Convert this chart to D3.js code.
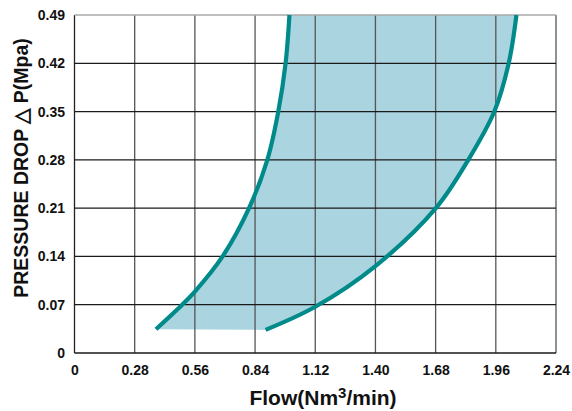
<!DOCTYPE html>
<html><head><meta charset="utf-8">
<script src="https://cdn.jsdelivr.net/npm/d3@7/dist/d3.min.js"></script>
<style>body{margin:0;background:#fff}svg{display:block}text{font-family:"Liberation Sans",Arial,sans-serif;font-weight:bold}</style>
</head><body><svg id="c" width="572" height="411"></svg>
<script>
const xTicks = [0, 0.28, 0.56, 0.84, 1.12, 1.40, 1.68, 1.96, 2.24];
const xTickLabels = ["0", "0.28", "0.56", "0.84", "1.12", "1.40", "1.68", "1.96", "2.24"];
const yTicks = [0, 0.07, 0.14, 0.21, 0.28, 0.35, 0.42, 0.49];
const yTickLabels = ["0", "0.07", "0.14", "0.21", "0.28", "0.35", "0.42", "0.49"];
// lower-flow boundary curve
const leftCurveFlow = [0.379, 0.501, 0.56, 0.689, 0.812, 0.897, 0.948, 0.982, 1.0];
const leftCurveP    = [0.0345, 0.07, 0.089, 0.14, 0.21, 0.28, 0.35, 0.42, 0.49];
// higher-flow boundary curve
const rightCurveFlow = [0.889, 1.12, 1.40, 1.681, 1.832, 1.953, 2.02, 2.056];
const rightCurveP    = [0.0335, 0.067, 0.126, 0.21, 0.28, 0.35, 0.42, 0.49];
const xTitle = ["Flow(Nm", "3", "/min)"];
const yTitle = "PRESSURE DROP \u25B3 P(Mpa)";

const svg = d3.select("#c");
const x = d3.scaleLinear().domain([0, 2.24]).range([74.5, 556]);
const y = d3.scaleLinear().domain([0, 0.49]).range([353, 15]);

const left = leftCurveP.map((p, i) => [leftCurveFlow[i], p]);
const right = rightCurveP.map((p, i) => [rightCurveFlow[i], p]);
const curveLine = d3.line().x(d => x(d[0])).y(d => y(d[1])).curve(d3.curveCatmullRom.alpha(0.5));

// fill region between curves
const lp = curveLine(left);
const rp = curveLine(right.slice().reverse());
svg.append("path")
  .attr("d", lp + "L" + rp.slice(1) + "Z")
  .attr("fill", "#aad4e0");

// grid
const g = svg.append("g");
g.selectAll(".vx").data(xTicks).join("line")
  .attr("x1", d => x(d)).attr("x2", d => x(d)).attr("y1", y(0.49)).attr("y2", y(0))
  .attr("stroke", d => d === 0 ? "#222" : "#555").attr("stroke-width", 1.3);
g.selectAll(".hy").data(yTicks).join("line")
  .attr("x1", x(0)).attr("x2", x(2.24)).attr("y1", d => y(d)).attr("y2", d => y(d))
  .attr("stroke", d => d === 0.49 ? "#aaa" : "#1a1a1a").attr("stroke-width", 1.3);

// curves
svg.append("path").datum(left).attr("d", curveLine)
  .attr("fill", "none").attr("stroke", "#008a8a").attr("stroke-width", 4.2);
svg.append("path").datum(right).attr("d", curveLine)
  .attr("fill", "none").attr("stroke", "#008a8a").attr("stroke-width", 4.2);

// axes labels
const xAxis = d3.axisBottom(x).tickValues(xTicks).tickFormat((d, i) => xTickLabels[i]).tickSize(0).tickPadding(12);
const xa = svg.append("g").attr("transform", `translate(0,${y(0)})`).call(xAxis);
xa.select(".domain").remove();
xa.selectAll("text").attr("font-size", 14).attr("fill", "#111").attr("font-family", "Liberation Sans, Arial").attr("font-weight", "bold");

const yAxis = d3.axisLeft(y).tickValues(yTicks).tickFormat((d, i) => yTickLabels[i]).tickSize(0).tickPadding(9.5);
const ya = svg.append("g").attr("transform", `translate(${x(0)},0)`).call(yAxis);
ya.select(".domain").remove();
ya.selectAll("text").attr("font-size", 14).attr("fill", "#111").attr("font-family", "Liberation Sans, Arial").attr("font-weight", "bold");

// titles
const xt = svg.append("text").attr("x", 323).attr("y", 405).attr("text-anchor", "middle")
  .attr("font-size", 21).attr("fill", "#111");
xt.append("tspan").text(xTitle[0]);
xt.append("tspan").attr("font-size", 15).attr("dy", -7).text(xTitle[1]);
xt.append("tspan").attr("dy", 7).text(xTitle[2]);

svg.append("text").attr("transform", "translate(28,168) rotate(-90)").attr("text-anchor", "middle")
  .attr("font-size", 19.5).attr("fill", "#111").text(yTitle);
</script></body></html>
